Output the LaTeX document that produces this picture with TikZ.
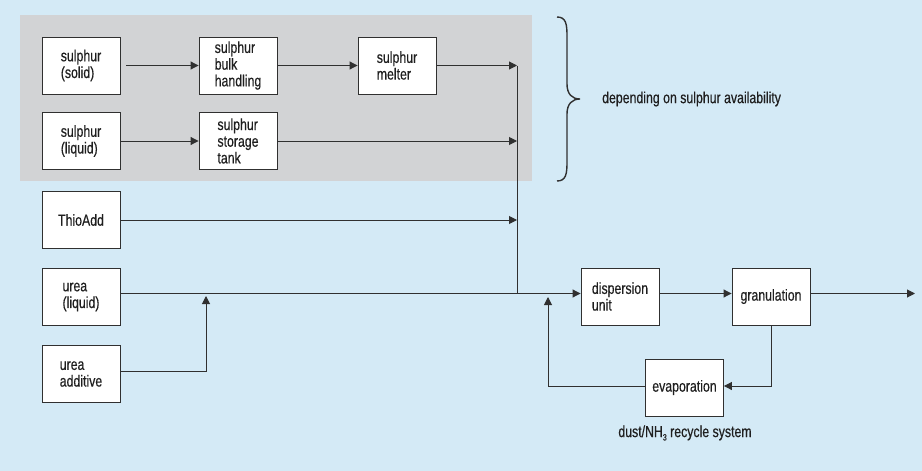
\documentclass[tikz,border=0pt]{standalone}
\usepackage{fontspec}
\setmainfont{Liberation Sans}[FakeStretch=0.77, FakeBold=0.4]
\usetikzlibrary{arrows.meta}
\definecolor{bgblue}{HTML}{D4EAF6}
\definecolor{panelgray}{HTML}{D2D3D5}
\definecolor{linegray}{HTML}{303030}
\tikzset{
  procbox/.style={draw=linegray, line width=0.9pt, fill=white, minimum width=78pt, minimum height=57pt, inner sep=0pt, align=left, font=\fontsize{16pt}{16.7pt}\selectfont, text=black!88},
  flow/.style={draw=linegray, line width=1pt, -{Triangle[length=8pt,width=8pt]}},
  plain/.style={draw=linegray, line width=1pt},
  lbl/.style={font=\fontsize{16pt}{16.7pt}\selectfont, text=black!88, inner sep=0pt}
}
\begin{document}
\begin{tikzpicture}[x=1pt,y=-1pt]
\fill[bgblue] (0,0) rectangle (922,471);
\useasboundingbox (0,0) rectangle (922,471);
\fill[panelgray] (20,15) rectangle (532,181);

\node[procbox] (ss) at (81,65.5) {sulphur\\(solid)};
\node[procbox] (sb) at (238,65.5) {sulphur\\bulk\\handling};
\node[procbox] (sm) at (397,65.5) {sulphur\\melter};
\node[procbox] (sl) at (81,141) {sulphur\\(liquid)};
\node[procbox] (st) at (238,141) {sulphur\\storage\\tank};
\node[procbox] (th) at (81,220) {ThioAdd};
\node[procbox] (ul) at (81,297) {urea\\(liquid)};
\node[procbox] (ua) at (81,374) {urea\\additive};
\node[procbox] (du) at (620,296.5) {dispersion\\unit};
\node[procbox] (gr) at (771,296.5) {granulation};
\node[procbox] (ev) at (684.5,387.5) {evaporation};

\coordinate (j1) at (517,65.5);
\coordinate (j2) at (517,141);
\coordinate (j3) at (517,220);
\coordinate (j4) at (517,293.5);
\coordinate (ma) at (206,296);
\coordinate (mr) at (548,297);
\coordinate (out) at (915,293.5);

\draw[flow, shorten <=6pt] (ss) -- (sb);
\draw[flow] (sb) -- (sm);
\draw[flow] (sm) -- (j1);
\draw[flow] (sl) -- (st);
\draw[flow] (st) -- (j2);
\draw[flow] (th) -- (j3);
\draw[plain] (j1) -- (j4);
\draw[flow] (ul.east |- j4) -- (du.west |- j4);
\draw[flow] (ua.east |- 0,371) -| (ma);
\draw[flow] (du.east |- j4) -- (gr.west |- j4);
\draw[flow] (gr.east |- j4) -- (out);
\draw[flow] (gr.south) |- (ev.east |- 0,386);
\draw[flow] (ev.west |- 0,386) -| (mr);

% brace
\draw[linegray, line width=1.4pt] (557,17) .. controls (566,17) and (567,24) .. (567,36) -- (567,84) .. controls (567,94) and (572,99) .. (580,99) .. controls (572,99) and (567,104) .. (567,114) -- (567,162) .. controls (567,174) and (566,181) .. (557,181);
\node[lbl, anchor=west] (dep) at (602,99) {depending on sulphur availability};
\node[lbl] (rec) at (685,433) {dust/NH\raisebox{-0.4ex}{\fontsize{9pt}{9pt}\selectfont 3} recycle system};
\end{tikzpicture}
\end{document}
